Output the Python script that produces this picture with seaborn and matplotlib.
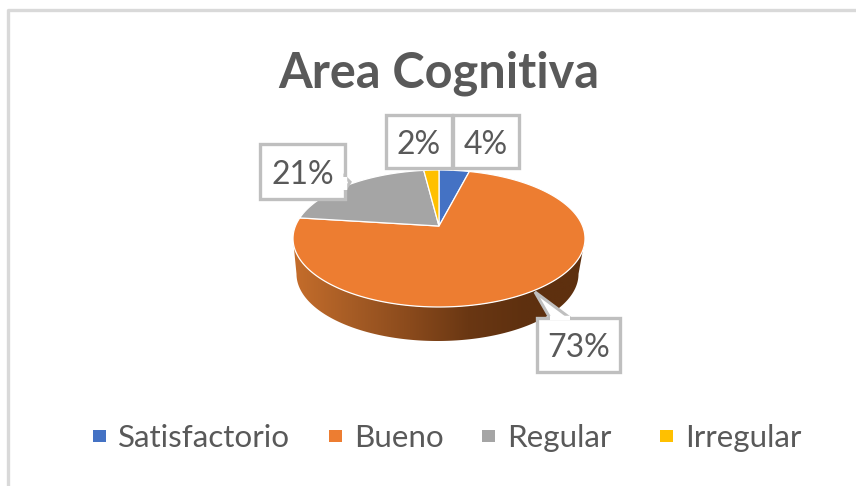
import numpy as np
import matplotlib
matplotlib.use("Agg")
import matplotlib.pyplot as plt
import seaborn as sns
from matplotlib.colors import LinearSegmentedColormap
from matplotlib.patches import Polygon, Rectangle

categories = ["Satisfactorio", "Bueno", "Regular", "Irregular"]
values = [4, 73, 21, 2]
labels = ["4%", "73%", "21%", "2%"]
colors = ["#4472C4", "#ED7D31", "#A5A5A5", "#FFC000"]

sns.set_theme(style="white")
plt.rcParams["font.family"] = ["Lato", "DejaVu Sans"]

W, H = 856, 486
fig = plt.figure(figsize=(W / 100, H / 100), dpi=100, facecolor="white")

# Page frame and title, in pixel coordinates
page = fig.add_axes([0, 0, 1, 1], zorder=0)
page.set_xlim(0, W)
page.set_ylim(H, 0)
page.axis("off")
page.plot([8.5, 8.5, W], [H, 10.5, 10.5], color="#D9D9D9", lw=2.4, solid_capstyle="butt")
page.text(439, 73, "Area Cognitiva", ha="center", va="center", fontsize=35,
          fontweight="bold", color="#595959")

# The pie axes cover the top ellipse of the tilted disc plus room for its wall
L, R, T, B = 293, 585, 170, 307
DEPTH_PX = 34
half_h = (B - T) / 2
ax = fig.add_axes([L / W, 1 - (B + DEPTH_PX) / H, (R - L) / W, (B + DEPTH_PX - T) / H], zorder=2)
wedges, _ = ax.pie(values, colors=colors, startangle=90, counterclock=False, radius=1)
ax.set_aspect("auto")
ax.set_xlim(-1, 1)
ax.set_ylim(-1 - DEPTH_PX / half_h, 1)
ax.axis("off")

# Perspective: the disc stays an ellipse but its apex sits behind the ellipse centre
P = 0.182
def perspective(xy):
    d = 1 + P * xy[:, 1]
    x = xy[:, 0] / d * np.sqrt(1 - P ** 2)
    y = (xy[:, 1] / d + P / (1 - P ** 2)) * (1 - P ** 2)
    return np.column_stack([x, y])

for w in wedges:
    th = np.radians(np.linspace(w.theta1, w.theta2, 200))
    rim = w.r * np.column_stack([np.cos(th), np.sin(th)]) + np.asarray(w.center)
    poly = np.vstack([np.asarray(w.center)[None, :], rim])
    w.set_visible(False)
    ax.add_patch(Polygon(perspective(poly), closed=True, facecolor=w.get_facecolor(),
                         edgecolor="white", linewidth=0.9, zorder=3, clip_on=False))

# Side wall: lower half of the top ellipse joined to a slightly narrower base ellipse
t = np.linspace(np.pi, 2 * np.pi, 240)
base_w, base_cx = 141 / 146, -1.5 / 146
base_cy, base_h = -35.5 / half_h, 67 / half_h
upper = np.column_stack([np.cos(t), np.sin(t)])
lower = np.column_stack([base_cx + base_w * np.cos(t), base_cy + base_h * np.sin(t)])
wall = np.vstack([upper, lower[::-1]])
shade = LinearSegmentedColormap.from_list(
    "wall", ["#C56D2B", "#A65C25", "#8A4A1C", "#6A3713", "#5E300F", "#5E300F"])
im = ax.imshow(np.linspace(0, 1, 256).reshape(1, -1), cmap=shade,
               extent=[-1, 1, -1 - DEPTH_PX / half_h, 0.2], aspect="auto", zorder=1)
clip = Polygon(wall, closed=True, transform=ax.transData, facecolor="none", edgecolor="none")
ax.add_patch(clip)
im.set_clip_path(clip)
ax.set_xlim(-1, 1)
ax.set_ylim(-1 - DEPTH_PX / half_h, 1)

# Callout labels and legend
overlay = fig.add_axes([0, 0, 1, 1], zorder=3)
overlay.set_xlim(0, W)
overlay.set_ylim(H, 0)
overlay.axis("off")
boxes = {"4%": (453, 115, 519, 168), "2%": (386, 115, 452, 168),
         "21%": (260, 144, 345, 199), "73%": (537, 318, 620, 372)}
pointers = {"21%": [(345, 177), (350, 182), (345, 190)],
            "73%": [(570, 318), (535, 292), (550, 318)]}
for lab in ["21%", "2%", "4%", "73%"]:
    x0, y0, x1, y1 = boxes[lab]
    overlay.add_patch(Rectangle((x0, y0), x1 - x0, y1 - y0, facecolor="white",
                                edgecolor="#BFBFBF", linewidth=2.4, zorder=3))
    if lab in pointers:
        overlay.add_patch(Polygon(pointers[lab], closed=True, facecolor="white",
                                  edgecolor="#BFBFBF", linewidth=2.2, zorder=4))
        a, _, c = pointers[lab]
        overlay.plot([a[0], c[0]], [a[1], c[1]], color="white", lw=3.2, zorder=5,
                     solid_capstyle="butt")
    overlay.text((x0 + x1) / 2, (y0 + y1) / 2 + 3, lab, ha="center", va="center",
                 fontsize=23, color="#595959", zorder=6)

swatch_x = [93, 329, 482, 660]
text_x = [118, 354, 507, 685]
for c, name, a, b in zip(colors, categories, swatch_x, text_x):
    overlay.add_patch(Rectangle((a, 430), 13, 12, facecolor=c, edgecolor="none"))
    overlay.text(b, 437.5, name, ha="left", va="center", fontsize=22.6, color="#595959")

fig.savefig("out.png", dpi=100)
